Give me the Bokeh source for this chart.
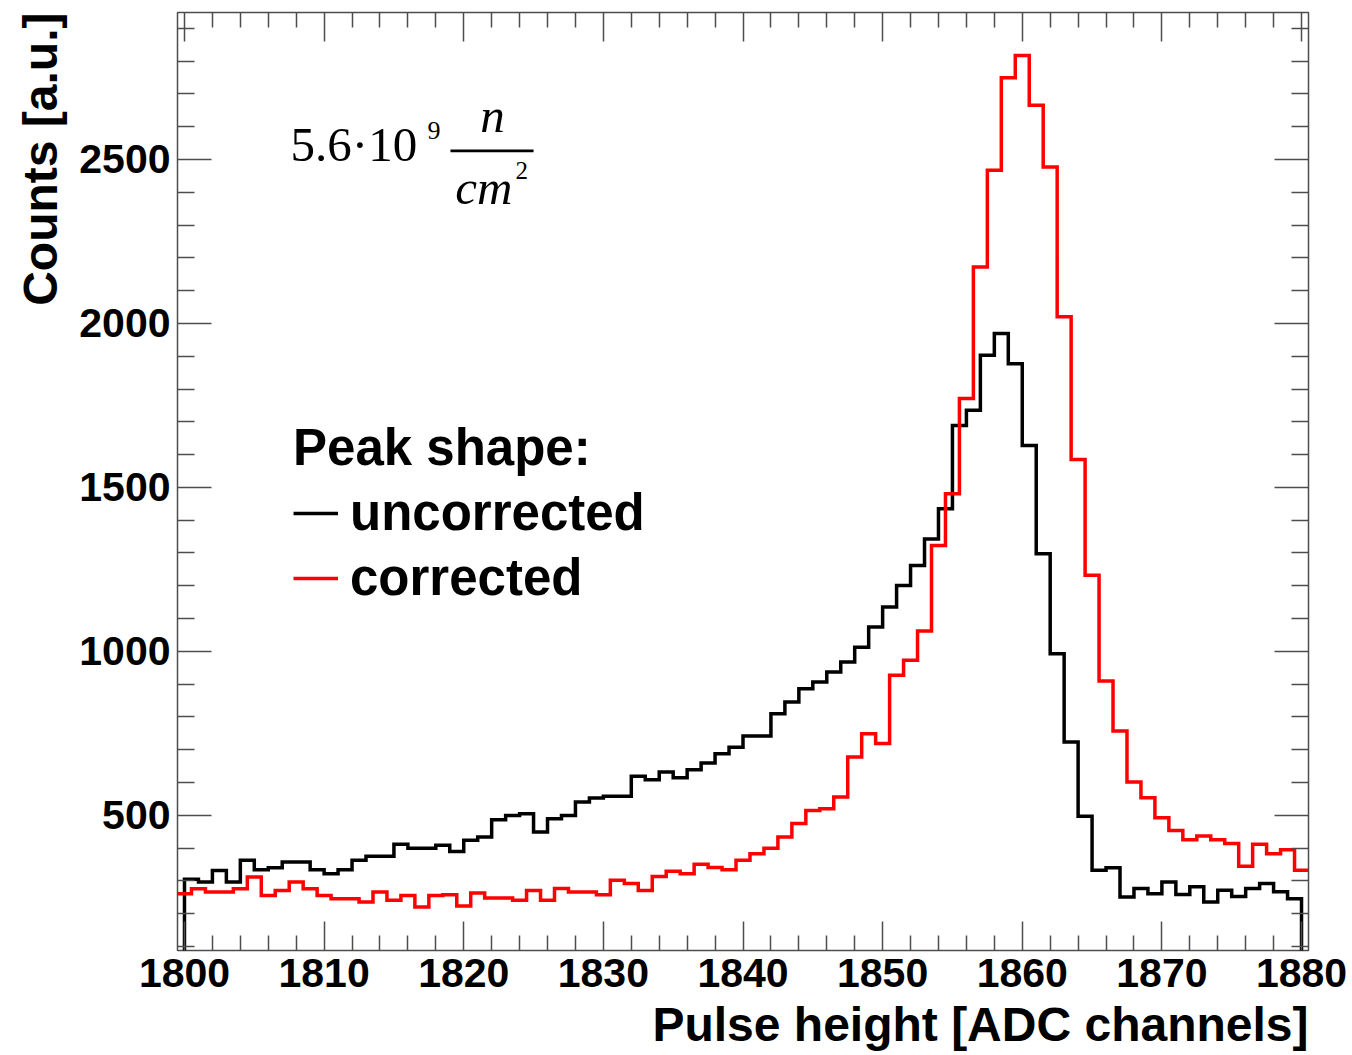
import numpy as np
from bokeh.plotting import figure
from bokeh.models import (Range1d, LinearAxis, FixedTicker, Label, Legend,
                          LegendItem, BoxAnnotation, Title)
from bokeh.embed import file_html
from bokeh.resources import INLINE

# ---------------------------------------------------------------------------
# Data: pulse-height spectra, one count per ADC channel
# ---------------------------------------------------------------------------
channel_first = 1800
channel_last = 1880

# uncorrected peak: bins [1800,1801) ... [1879,1880)
uncorrected_counts = [
    305, 297, 332, 297, 363, 334, 340, 358, 358, 334,
    322, 334, 363, 375, 375, 412, 400, 400, 409, 390,
    424, 434, 487, 500, 505, 449, 490, 500, 541, 553,
    558, 558, 619, 609, 632, 615, 639, 660, 688, 708,
    742, 742, 810, 846, 886, 907, 937, 968, 1013, 1074,
    1135, 1201, 1262, 1343, 1435, 1689, 1735, 1903, 1969, 1877,
    1628, 1298, 993, 724, 497, 333, 340, 251, 277, 261,
    297, 259, 282, 236, 272, 253, 277, 292, 267, 246,
]

# corrected peak: bins centred on channels 1800 ... 1880
corrected_counts = [
    261, 276, 266, 266, 276, 312, 256, 271, 297, 276,
    256, 246, 246, 236, 266, 241, 256, 221, 256, 258,
    224, 263, 248, 248, 241, 271, 241, 277, 266, 266,
    258, 302, 292, 271, 314, 330, 322, 351, 341, 334,
    363, 383, 400, 434, 475, 515, 520, 556, 678, 749,
    719, 927, 973, 1062, 1323, 1481, 1771, 2172, 2467, 2749,
    2817, 2665, 2477, 2020, 1585, 1232, 910, 757, 602, 554,
    493, 454, 426, 437, 426, 414, 345, 412, 383, 395,
    333,
]

series_labels = ["uncorrected", "corrected"]
series_colors = ["#000000", "#ff0000"]

x_ticks = [1800, 1810, 1820, 1830, 1840, 1850, 1860, 1870, 1880]
y_ticks = [500, 1000, 1500, 2000, 2500]
x_minor = [v for v in range(1800, 1881, 2) if v not in x_ticks]
y_minor = [v for v in range(100, 3000, 100) if v not in y_ticks]

FRAME = "#4d4d4d"
SANS = "Liberation Sans"
SERIF = "Liberation Serif"


def histogram_outline(edges, counts, drop_to=None):
    """Step outline of a histogram; optionally drops to a baseline at both ends."""
    xs = np.repeat(np.asarray(edges, dtype=float), 2)
    ys = np.repeat(np.asarray(counts, dtype=float), 2)
    if drop_to is None:
        return xs[1:-1], ys
    ys = np.concatenate([[drop_to], ys, [drop_to]])
    return xs, ys


p = figure(
    frame_width=1131, frame_height=938,
    x_range=Range1d(1799.5, 1880.5), y_range=Range1d(88, 2948),
    output_backend="svg", toolbar_location=None,
    min_border_left=177, min_border_right=44, min_border_top=12, min_border_bottom=0,
    background_fill_color="white", border_fill_color="white",
    outline_line_color=FRAME, outline_line_width=1.5,
)
p.grid.visible = False


def style_axis(ax, ticks, minor, major_len, minor_len, show_labels, standoff):
    ax.ticker = FixedTicker(ticks=ticks, minor_ticks=minor)
    ax.axis_line_color = None
    ax.major_tick_in = major_len
    ax.major_tick_out = 0
    ax.minor_tick_in = minor_len
    ax.minor_tick_out = 0
    ax.major_tick_line_color = FRAME
    ax.minor_tick_line_color = FRAME
    ax.major_tick_line_width = 1.5
    ax.minor_tick_line_width = 1.5
    if show_labels:
        ax.major_label_text_font = SANS
        ax.major_label_text_font_size = "41px"
        ax.major_label_text_font_style = "bold"
        ax.major_label_text_color = "black"
        ax.major_label_standoff = standoff
    else:
        # tick marks only on the opposite sides of the frame
        ax.major_label_overrides = {t: "" for t in ticks}
        ax.major_label_text_font_size = "1px"
        ax.major_label_standoff = 0


x_bottom = p.xaxis[0]
y_left = p.yaxis[0]
x_top = LinearAxis()
y_right = LinearAxis()
p.add_layout(x_top, "above")
p.add_layout(y_right, "right")

style_axis(x_bottom, x_ticks, x_minor, 29, 15, True, 8)
style_axis(x_top, x_ticks, x_minor, 29, 15, False, 0)
style_axis(y_left, y_ticks, y_minor, 34, 17, True, 7)
style_axis(y_right, y_ticks, y_minor, 34, 17, False, 0)

# axis titles, flush with the far end of each axis
for place, text, standoff in (("below", "Pulse height [ADC channels]", 12),
                              ("left", "Counts [a.u.]", 19)):
    p.add_layout(Title(text=text, align="right", text_font=SANS, text_font_size="48px",
                       text_font_style="bold", text_color="black", standoff=standoff,
                       offset=0), place)

# histograms
u_edges = np.arange(channel_first, channel_last + 1)
c_edges = np.arange(channel_first - 0.5, channel_last + 1.0)
ux, uy = histogram_outline(u_edges, uncorrected_counts, drop_to=0.0)
cx, cy = histogram_outline(c_edges, corrected_counts)

r_unc = p.line(ux, uy, line_color=series_colors[0], line_width=3.5, line_join="miter")
r_cor = p.line(cx, cy, line_color=series_colors[1], line_width=3.5, line_join="miter")

legend = Legend(
    items=[LegendItem(label=series_labels[0], renderers=[r_unc]),
           LegendItem(label=series_labels[1], renderers=[r_cor])],
    location=(116, 343),
    title="Peak shape:",
    title_text_font=SANS, title_text_font_size="51px", title_text_font_style="bold",
    title_text_color="black", title_standoff=6,
    label_text_font=SANS, label_text_font_size="51px", label_text_font_style="bold",
    label_text_color="black", label_standoff=12,
    glyph_width=45, glyph_height=58, label_height=58, spacing=6,
    padding=0, margin=0,
    background_fill_alpha=0, border_line_alpha=0,
)
p.add_layout(legend)

# fluence annotation: 5.6·10^9 n/cm^2
p.add_layout(Label(x=1807.6, y=2545, text="5.6·10", text_font=SERIF,
                   text_font_size="49px", text_baseline="alphabetic", text_color="black"))
p.add_layout(Label(x=1817.4, y=2588, text="9", text_font=SERIF,
                   text_font_size="26px", text_baseline="alphabetic", text_color="black"))
p.add_layout(BoxAnnotation(left=1819.05, right=1825.0, bottom=2522, top=2530,
                           fill_color="black", fill_alpha=1.0, line_alpha=0))
p.add_layout(Label(x=1822.06, y=2634, text="n", text_font=SERIF, text_font_style="italic",
                   text_font_size="49px", text_align="center", text_baseline="alphabetic",
                   text_color="black"))
p.add_layout(Label(x=1819.4, y=2414, text="cm", text_font=SERIF, text_font_style="italic",
                   text_font_size="49px", text_baseline="alphabetic", text_color="black"))
p.add_layout(Label(x=1823.7, y=2465, text="2", text_font=SERIF,
                   text_font_size="25px", text_baseline="alphabetic", text_color="black"))

open("out.html", "w").write(file_html(p, INLINE))
